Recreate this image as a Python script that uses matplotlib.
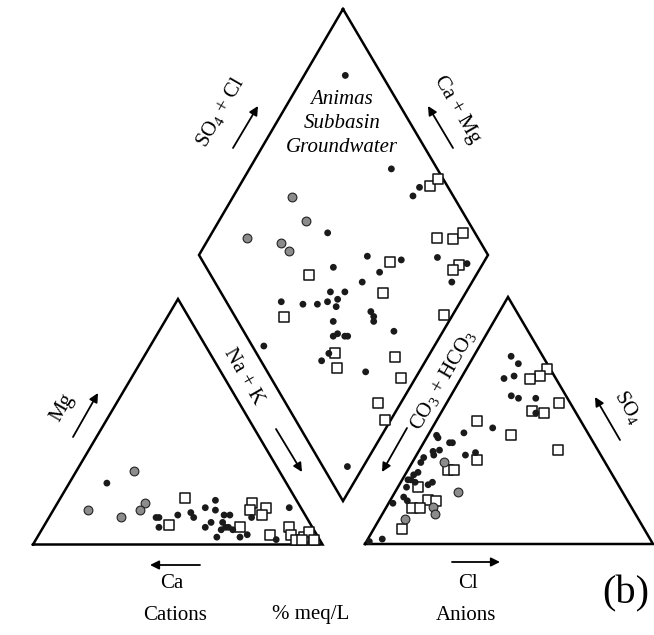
import numpy as np
import matplotlib
matplotlib.use('Agg')
import matplotlib.pyplot as plt

plt.rcParams['font.family'] = 'Liberation Serif'
plt.rcParams['mathtext.fontset'] = 'custom'
plt.rcParams['mathtext.rm'] = 'Liberation Serif'
plt.rcParams['mathtext.it'] = 'Liberation Serif:italic'

# cation triangle, % meq/L  (Mg, Na+K); Ca is the rest
cat_dot_mg = [25, 11, 11, 7, 12, 13, 11, 15, 18, 14, 9, 7, 3, 12, 12, 9, 7, 7, 6, 6, 3, 4, 11, 15, 2]
cat_dot_nk = [13, 37, 38, 40, 44, 48, 50, 52, 54, 56, 57, 56, 62, 60, 62, 61, 63, 64, 62, 66, 70, 72, 70, 81, 83]
cat_gry_mg = [30, 17, 14, 14, 11]
cat_gry_nk = [20, 30, 30, 12, 25]
cat_sq_mg = [19, 8, 7, 17, 15, 14, 12, 4, 7, 4, 2, 3, 5, 2, 2]
cat_sq_nk = [43, 43, 68, 67, 73, 68, 73, 80, 85, 87, 90, 92, 93, 96, 92]

# anion triangle, % meq/L  (SO4, Cl); CO3+HCO3 is the rest
an_dot_so4 = [76, 73, 68, 67, 60, 59, 59, 53, 47, 45, 44, 43, 41, 41, 37.5, 38, 36, 36, 37, 35, 33, 29,
              28, 26, 26, 25, 23, 24, 25, 19, 17.5, 16.5, 2, 1]
an_dot_cl = [13, 17, 18, 15, 21, 24, 30, 33, 21, 12, 3, 4, 9, 10, 5, 7, 6, 17, 20, 3, 3, 4,
             3, 3, 2, 5, 3, 10, 11, 4, 6, 1.5, 5, 1]
an_gry_so4 = [33, 21, 15, 12, 10]
an_gry_cl = [11, 22, 16, 18.5, 9]
an_sq_so4 = [71, 68, 67, 57, 54, 53, 50, 44, 38, 34, 30, 30, 23, 18, 17.5, 14.5, 14.5, 6]
an_sq_cl = [28, 27, 24, 39, 31, 36, 14, 29, 48, 22, 14, 16, 7, 13, 16, 9, 12, 10]

# diamond  (SO4+Cl, Ca+Mg)
dia_dot_sc = [87, 84, 90, 86, 49, 58, 69, 82, 91, 44, 59, 51, 82, 43, 38, 39, 35, 31, 26, 19, 37, 48,
              48, 47, 33, 30, 32, 34, 35, 52, 4, 25, 21, 34, 8.5]
dia_dot_cm = [86, 51, 37.5, 38, 60, 41.5, 29, 17, 5.5, 51, 34, 38, 7, 42, 47, 43, 46, 49, 54, 62, 42, 29,
              27, 26, 40, 37, 36, 33, 32, 17, 59, 35, 36, 18.5, 5.5]
dia_gry_sc = [44, 44, 20, 31, 32]
dia_gry_cm = [79.5, 70, 87, 74, 69.5]
dia_sq_sc = [94, 98, 86, 91, 96, 64.5, 88, 85, 34, 56, 17, 72.5, 27, 47, 25, 45, 32, 31]
dia_sq_cm = [34, 33, 21, 15.5, 13, 32.5, 8, 9, 58, 28.5, 58, 3, 33, 11.5, 29, 5, 8, 2]

# layout (pixel frame)
CA, NK, MG = np.array([33, 544.5]), np.array([322.5, 544.5]), np.array([178, 299])
HC, CL, SO = np.array([365, 544]), np.array([653, 544]), np.array([508, 297])
DT, DL, DR, DB = np.array([343, 9]), np.array([199, 255]), np.array([488, 255]), np.array([343, 501])


def cation_xy(mg, nk):
    mg = np.asarray(mg) / 100.0
    nk = np.asarray(nk) / 100.0
    p = CA[None, :] + nk[:, None] * (NK - CA) + mg[:, None] * (MG - CA)
    return p[:, 0], p[:, 1]


def anion_xy(so4, cl):
    so4 = np.asarray(so4) / 100.0
    cl = np.asarray(cl) / 100.0
    p = HC[None, :] + cl[:, None] * (CL - HC) + so4[:, None] * (SO - HC)
    return p[:, 0], p[:, 1]


def diamond_xy(sc, cm):
    sc = np.asarray(sc) / 100.0
    cm = np.asarray(cm) / 100.0
    p = DB[None, :] + cm[:, None] * (DL - DB) + sc[:, None] * (DR - DB)
    return p[:, 0], p[:, 1]


fig = plt.figure(figsize=(6.54, 6.35), dpi=100)
ax = fig.add_axes([0, 0, 1, 1])
ax.set_xlim(0, 654)
ax.set_ylim(635, 0)
ax.axis('off')

lw = 1.8
for poly in ([CA, NK, MG, CA], [HC, CL, SO, HC], [DT, DR, DB, DL, DT]):
    poly = np.array(poly)
    ax.plot(poly[:, 0], poly[:, 1], c='k', lw=lw, solid_joinstyle='miter', zorder=2)

dot = dict(s=24, c='#1a1a1a', edgecolors='none', zorder=4)
gry = dict(s=40, c='#8c8c8c', edgecolors='#222222', linewidths=0.8, zorder=4)
sq = dict(s=44, marker='s', facecolors='white', edgecolors='#111111', linewidths=1.1, zorder=3)

ax.scatter(*cation_xy(cat_dot_mg, cat_dot_nk), **dot)
ax.scatter(*cation_xy(cat_gry_mg, cat_gry_nk), **gry)
ax.scatter(*cation_xy(cat_sq_mg, cat_sq_nk), **sq)
ax.scatter(*anion_xy(an_dot_so4, an_dot_cl), **dot)
ax.scatter(*anion_xy(an_gry_so4, an_gry_cl), **gry)
ax.scatter(*anion_xy(an_sq_so4, an_sq_cl), **sq)
ax.scatter(*diamond_xy(dia_dot_sc, dia_dot_cm), **dot)
ax.scatter(*diamond_xy(dia_gry_sc, dia_gry_cm), **gry)
ax.scatter(*diamond_xy(dia_sq_sc, dia_sq_cm), **sq)


def arrow(tail, head):
    ax.annotate('', xy=head, xytext=tail,
                arrowprops=dict(arrowstyle='-|>', color='k', lw=1.3, mutation_scale=13,
                                shrinkA=0, shrinkB=0))


fs = 15
ax.text(342, 100, 'Animas', style='italic', fontsize=fs, ha='center', va='center')
ax.text(342, 123, 'Subbasin', style='italic', fontsize=fs, ha='center', va='center')
ax.text(342, 147, 'Groundwater', style='italic', fontsize=fs, ha='center', va='center')

ax.text(220, 112, r'SO$_4$ + Cl', fontsize=fs, rotation=60, ha='center', va='center')
arrow((233, 148), (258, 106))
ax.text(457, 110, 'Ca + Mg', fontsize=fs, rotation=-60, ha='center', va='center')
arrow((453, 148), (428, 106))
ax.text(243, 377, 'Na + K', fontsize=fs, rotation=-60, ha='center', va='center')
arrow((276, 429), (302, 472))
ax.text(62, 408, 'Mg', fontsize=fs, rotation=60, ha='center', va='center')
arrow((73, 437), (98, 393))
ax.text(443, 380, r'CO$_3$ + HCO$_3$', fontsize=fs, rotation=60, ha='center', va='center')
arrow((407, 428), (382, 472))
ax.text(628, 407, r'SO$_4$', fontsize=fs, rotation=-60, ha='center', va='center')
arrow((620, 440), (595, 397))

arrow((200, 565), (150, 565))
ax.text(172, 584, 'Ca', fontsize=fs, ha='center', va='center')
arrow((452, 562), (500, 562))
ax.text(468, 584, 'Cl', fontsize=fs, ha='center', va='center')
ax.text(175, 615, 'Cations', fontsize=fs, ha='center', va='center')
ax.text(311, 615, '% meq/L', fontsize=fs, ha='center', va='center')
ax.text(466, 615, 'Anions', fontsize=fs, ha='center', va='center')
ax.text(626, 594, '(b)', fontsize=29, ha='center', va='center')

fig.savefig('out.png', dpi=100, facecolor='white')
